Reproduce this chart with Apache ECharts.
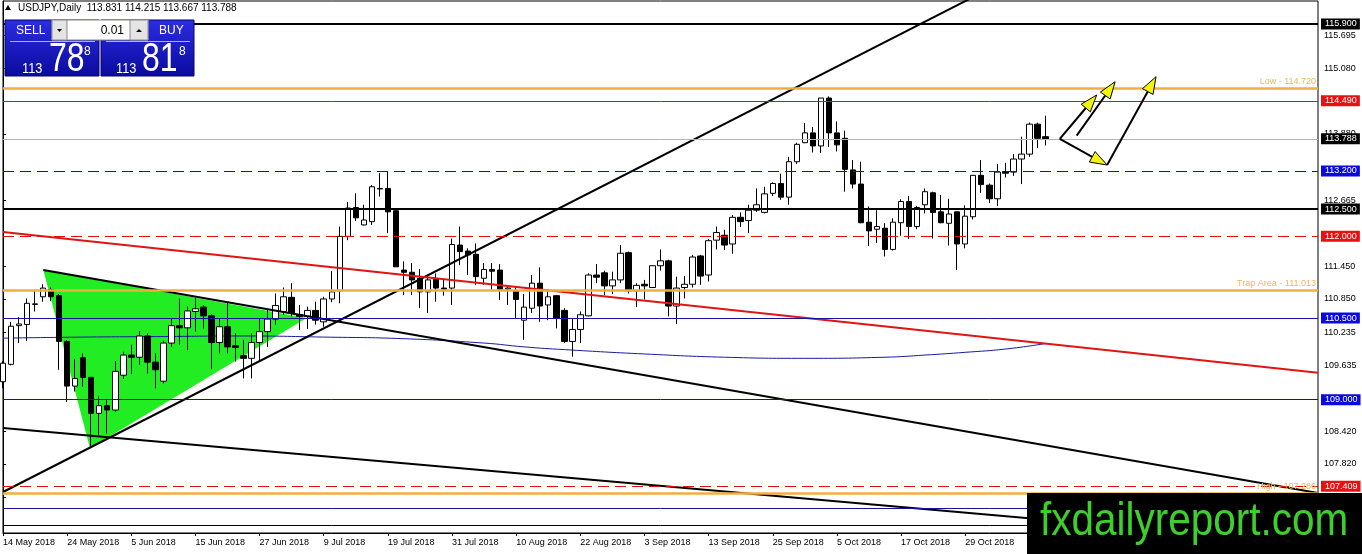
<!DOCTYPE html>
<html>
<head>
<meta charset="utf-8">
<script src="https://cdn.jsdelivr.net/npm/echarts@6/dist/echarts.min.js"></script>
<style>
html, body { margin: 0; padding: 0; background: #fff; }
#chart { width: 1362px; height: 554px; }
</style>
</head>
<body>
<div id="chart"></div>
<script>
var FONT = "'Liberation Sans', Arial, sans-serif";

//------------------- data -------------------
var barCount = 131;     // 14 May 2018 .. 12 Nov 2018
var slotCount = 165;    // bars + empty space on the right
var monthNames = ['Jan','Feb','Mar','Apr','May','Jun','Jul','Aug','Sep','Oct','Nov','Dec'];

// daily candles: open, close, low, high
var ohlc = [
  [109.33,109.67,109.21,109.71],[109.65,110.35,109.63,110.43],[110.36,110.39,110.04,110.52],[110.38,110.77,110.08,110.86],
  [110.75,110.76,110.62,111.01],[110.89,111.05,110.80,111.12],[111.02,110.89,110.81,111.06],[110.91,110.07,109.55,110.94],
  [110.07,109.25,108.96,110.10],[109.25,109.39,109.15,109.75],[109.77,109.41,109.24,109.85],[109.41,108.75,108.14,109.42],
  [108.75,108.89,108.35,109.06],[108.89,108.81,108.38,109.00],[108.81,109.52,108.78,109.71],[109.45,109.82,109.38,109.88],
  [109.82,109.78,109.47,110.01],[109.78,110.17,109.64,110.26],[110.17,109.69,109.48,110.22],[109.69,109.55,109.21,109.85],
  [109.34,110.04,109.30,110.08],[110.04,110.36,109.97,110.49],[110.36,110.32,110.01,110.86],[110.32,110.63,109.91,110.71],
  [110.62,110.67,110.25,110.87],[110.70,110.54,110.31,110.74],[110.54,110.05,109.56,110.57],[110.05,110.34,109.85,110.48],
  [110.34,109.97,109.85,110.79],[109.99,109.96,109.70,110.22],[109.81,109.76,109.39,110.10],[109.76,110.05,109.39,110.22],
  [110.05,110.25,109.70,110.48],[110.25,110.48,109.97,110.65],[110.48,110.73,110.38,110.95],[110.62,110.89,110.56,111.06],
  [110.88,110.59,110.53,111.14],[110.56,110.53,110.28,110.74],[110.53,110.64,110.30,110.71],[110.64,110.46,110.38,110.80],
  [110.43,110.85,110.34,110.89],[110.85,110.98,110.79,111.36],[111.00,112.00,110.77,112.18],[112.00,112.52,111.93,112.63],
  [112.53,112.34,112.28,112.79],[112.21,112.30,112.20,112.58],[112.27,112.91,112.21,112.94],[112.88,112.87,112.73,113.16],
  [112.88,112.45,112.06,113.19],[112.47,111.44,111.44,112.48],[111.38,111.34,110.92,111.54],[111.34,111.20,110.92,111.51],
  [111.23,110.98,110.68,111.40],[110.98,111.20,110.59,111.29],[111.21,111.05,110.80,111.32],[111.05,111.03,110.91,111.20],
  [111.05,111.85,110.74,111.96],[111.84,111.72,111.47,112.18],[111.73,111.66,111.29,111.78],[111.67,111.26,111.11,111.87],
  [111.23,111.39,111.11,111.51],[111.39,111.36,111.00,111.51],[111.38,111.03,110.83,111.49],[111.03,111.05,110.74,111.09],
  [111.00,110.84,110.49,111.08],[110.46,110.70,110.10,110.94],[110.68,111.14,110.59,111.29],[111.14,110.72,110.43,111.43],
  [110.74,110.89,110.46,111.03],[110.91,110.49,110.31,110.92],[110.64,110.07,110.04,110.68],[110.07,110.29,109.79,110.48],
  [110.29,110.56,110.04,110.62],[110.54,111.29,110.53,111.32],[111.29,111.25,111.14,111.49],[111.33,111.09,110.92,111.37],
  [111.09,111.20,110.94,111.35],[111.20,111.69,111.14,111.84],[111.70,111.00,110.95,111.72],[111.00,111.10,110.70,111.14],
  [111.12,111.09,110.84,111.20],[111.06,111.46,111.05,111.47],[111.46,111.55,111.37,111.76],[111.55,110.72,110.53,111.57],
  [110.72,111.05,110.39,111.26],[111.06,111.12,110.86,111.27],[111.12,111.62,111.06,111.66],[111.64,111.27,111.11,111.66],
  [111.29,111.92,111.17,111.95],[111.93,112.07,111.76,112.18],[112.02,111.84,111.75,112.12],[111.86,112.35,111.68,112.39],
  [112.35,112.27,112.17,112.44],[112.29,112.48,112.06,112.58],[112.48,112.58,112.45,112.88],[112.44,112.78,112.42,112.91],
  [112.79,112.97,112.74,112.99],[112.97,112.72,112.67,113.15],[112.72,113.37,112.58,113.46],[113.37,113.69,113.33,113.72],
  [113.72,113.90,113.71,114.08],[113.90,113.66,113.54,114.01],[113.66,114.54,113.53,114.54],[114.54,113.90,113.64,114.57],
  [113.90,113.68,113.56,114.11],[113.80,113.23,112.82,113.94],[113.22,112.96,112.88,113.40],[112.96,112.25,112.24,113.37],
  [112.26,112.10,111.82,112.55],[112.13,112.18,111.88,112.48],[112.15,111.76,111.63,112.24],[111.76,112.26,111.74,112.33],
  [112.25,112.64,112.01,112.68],[112.64,112.18,111.95,112.74],[112.18,112.53,112.13,112.56],[112.58,112.82,112.42,112.88],
  [112.80,112.44,111.96,112.82],[112.45,112.25,112.24,112.76],[112.24,112.41,111.83,112.69],[112.45,111.86,111.38,112.45],
  [111.86,112.37,111.78,112.57],[112.36,113.12,112.31,113.12],[113.12,112.95,112.80,113.40],[112.94,112.69,112.61,112.97],
  [112.69,113.18,112.56,113.33],[113.19,113.16,113.08,113.35],[113.18,113.42,113.11,113.51],[113.42,113.51,112.96,113.83],
  [113.51,114.06,113.46,114.09],[114.06,113.80,113.62,114.09],[113.831,113.788,113.667,114.215]
];

// price scale ticks printed on the right axis
var yTicks = [115.695, 115.080, 113.880, 112.665, 111.450, 110.850, 110.235,
              109.635, 108.420, 107.820, 107.205];
var yMin = 106.552, yMax = 116.322;

// horizontal levels and their notes
var levelPrices = [115.900, 114.720, 114.490, 113.788, 113.200, 112.500, 112.000,
                   111.013, 110.500, 109.000, 107.409, 107.286, 107.000, 106.700];
var levelNotes  = ['', 'Low - 114.720', '', '', '', '', '',
                   'Trap Area - 111.013', '', '', '', 'High - 107.286', '', ''];

// moving average (bar index, price)
var maIndex  = [0, 10, 20, 30, 40, 50, 60, 65, 70, 80, 90, 100, 110, 115, 120, 125, 130];
var maValues = [110.13, 110.15, 110.16, 110.17, 110.15, 110.12, 110.04, 109.97, 109.92,
                109.84, 109.78, 109.76, 109.78, 109.82, 109.87, 109.93, 110.03];

// green triangle (bar index, price)
var triIndex = [5.03, 10.85, 37.88];
var triPrice = [111.382, 108.107, 110.50];

// trend lines (bar index, price) pairs
var upTrend    = [[0, 107.305], [125, 116.695]];
var triTop     = [[5.03, 111.382], [164, 107.287]];
var redTrend   = [[0, 112.078], [164, 109.496]];
var lowTrend   = [[0, 108.48], [164, 106.356]];

// projection arrows: from index, from price, to index, to price
var arrows = [
  [131.8, 113.788, 136.4, 114.596],
  [133.9, 113.849, 138.7, 114.840],
  [131.8, 113.788, 137.7, 113.310],
  [137.7, 113.310, 143.8, 114.932]
];

//------------------- categories -------------------
var categories = [];
var day = new Date(2018, 4, 14);
while (categories.length < slotCount) {
  var wd = day.getDay();
  if (wd !== 0 && wd !== 6) {
    categories.push(day.getDate() + ' ' + monthNames[day.getMonth()] + ' ' + day.getFullYear());
  }
  day.setDate(day.getDate() + 1);
}

//------------------- styles for levels -------------------
var RED = '#e01010', NAVY = '#14149a', ORANGE = '#f2ae3d', TAGBLUE = '#0a0ae0';
var levelLook = [
  { c: '#000', w: 2, tag: '#000' },
  { c: ORANGE, w: 2.5 },
  { c: RED, w: 1, tag: '#e81010' },
  { c: '#b4b4b4', w: 1, tag: '#000' },
  { c: '#1010c8', w: 1, dash: [11, 6], tag: TAGBLUE },
  { c: '#000', w: 2, tag: '#000' },
  { c: RED, w: 1, dash: [11, 6], tag: '#e81010' },
  { c: ORANGE, w: 2.5 },
  { c: NAVY, w: 1, tag: TAGBLUE },
  { c: NAVY, w: 1, tag: TAGBLUE },
  { c: RED, w: 1, dash: [11, 6], tag: '#e81010' },
  { c: ORANGE, w: 2.5 },
  { c: NAVY, w: 1 },
  { c: '#000', w: 1 }
];

var levelLines = levelPrices.map(function (p, k) {
  var look = levelLook[k];
  var label = { show: false };
  if (look.tag) {
    label = {
      show: true, position: 'end', distance: 3, formatter: p.toFixed(3),
      color: '#fff', backgroundColor: look.tag, padding: [1, 3, 0, 4],
      fontSize: 9, lineHeight: 10, fontFamily: FONT
    };
  } else if (levelNotes[k]) {
    label = {
      show: true, position: 'insideEndTop', distance: 2, formatter: levelNotes[k],
      color: '#f0b45a', fontSize: 9, fontFamily: FONT
    };
  }
  return {
    yAxis: p,
    lineStyle: { color: look.c, width: look.w, type: look.dash || 'solid' },
    label: label
  };
});

function showEvery8(idx) { return idx % 8 === 0 && idx < barCount; }

function trendSeries(points, color, width) {
  return {
    type: 'line', xAxisIndex: 1, data: points, symbol: 'none', silent: true, z: 4,
    lineStyle: { color: color, width: width }
  };
}

var maData = maIndex.map(function (x, k) { return [x, maValues[k]]; });

//------------------- option -------------------
var option = {
  animation: false,
  backgroundColor: '#fff',
  grid: {
    left: 3, right: 44, top: 1, bottom: 21,
    show: true, borderColor: '#000', borderWidth: 1,
    outerBoundsMode: 'none'
  },
  xAxis: [{
    type: 'category', data: categories, boundaryGap: false,
    axisLine: { lineStyle: { color: '#000', width: 1 } },
    axisTick: { interval: showEvery8, length: 3, lineStyle: { color: '#000' } },
    axisLabel: { interval: showEvery8, align: 'left', color: '#000', fontSize: 9, fontFamily: FONT, margin: 5 },
    splitLine: { show: false }
  }, {
    type: 'value', min: 0, max: slotCount - 1, show: false
  }],
  yAxis: {
    type: 'value', position: 'right', min: yMin, max: yMax,
    axisLine: { show: true, lineStyle: { color: '#000' } },
    axisTick: { show: true, customValues: yTicks, length: 3, lineStyle: { color: '#000' } },
    axisLabel: {
      customValues: yTicks, color: '#000', fontSize: 9, fontFamily: FONT, margin: 6,
      formatter: function (v) { return v.toFixed(3); }
    },
    splitLine: { show: false }
  },
  series: [
    {
      type: 'custom', xAxisIndex: 1, z: 1, silent: true,
      data: [[triIndex[0], triPrice[0]]],
      renderItem: function (params, api) {
        var pts = triIndex.map(function (x, k) { return api.coord([x, triPrice[k]]); });
        return { type: 'polygon', shape: { points: pts }, style: { fill: '#22ec22' } };
      }
    },
    {
      type: 'line', xAxisIndex: 1, data: maData, smooth: true, symbol: 'none', silent: true, z: 2,
      lineStyle: { color: '#1a1aa0', width: 1 }
    },
    {
      type: 'candlestick', xAxisIndex: 0, data: ohlc, barWidth: 6, silent: true, z: 3,
      itemStyle: { color: '#fff', color0: '#000', borderColor: '#000', borderColor0: '#000', borderWidth: 1 },
      markLine: { symbol: 'none', silent: true, z: 5, animation: false, data: levelLines }
    },
    trendSeries(upTrend, '#000', 2),
    trendSeries(triTop, '#000', 2),
    trendSeries(redTrend, '#e01414', 2),
    trendSeries(lowTrend, '#000', 2),
    {
      type: 'custom', xAxisIndex: 1, z: 6, silent: true,
      encode: { x: [0, 2], y: [1, 3] },
      data: arrows,
      renderItem: function (params, api) {
        var a = api.coord([api.value(0), api.value(1)]);
        var b = api.coord([api.value(2), api.value(3)]);
        var dx = b[0] - a[0], dy = b[1] - a[1];
        var len = Math.sqrt(dx * dx + dy * dy);
        var ux = dx / len, uy = dy / len;
        var L = 17, W = 6;
        var bx = b[0] - ux * L, by = b[1] - uy * L;
        return {
          type: 'group',
          children: [
            { type: 'line', shape: { x1: a[0], y1: a[1], x2: bx, y2: by }, style: { stroke: '#000', lineWidth: 2 } },
            { type: 'polygon', shape: { points: [[b[0], b[1]], [bx - uy * W, by + ux * W], [bx + uy * W, by - ux * W]] },
              style: { fill: '#f4f40a', stroke: '#000', lineWidth: 1 } }
          ]
        };
      }
    }
  ],
  graphic: [
    // header line
    { type: 'polygon', z: 50, shape: { points: [[5, 10], [11, 10], [8, 5]] }, style: { fill: '#000' } },
    { type: 'text', z: 50, x: 18, y: 3,
      style: { text: 'USDJPY,Daily  113.831 114.215 113.667 113.788', fill: '#000', font: '10px ' + FONT, textVerticalAlign: 'top', verticalAlign: 'top' } },
    // one-click trading panel
    { type: 'rect', z: 50, shape: { x: 5, y: 20, width: 94, height: 56 },
      style: { fill: { type: 'linear', x: 0, y: 0, x2: 0, y2: 1, colorStops: [{ offset: 0, color: '#2c2ce4' }, { offset: 1, color: '#0a0a9e' }] }, stroke: '#05056a' } },
    { type: 'rect', z: 50, shape: { x: 101, y: 20, width: 93, height: 56 },
      style: { fill: { type: 'linear', x: 0, y: 0, x2: 0, y2: 1, colorStops: [{ offset: 0, color: '#2c2ce4' }, { offset: 1, color: '#0a0a9e' }] }, stroke: '#05056a' } },
    { type: 'line', z: 51, shape: { x1: 10, y1: 41.5, x2: 95, y2: 41.5 }, style: { stroke: '#a8b0ff', lineWidth: 1 } },
    { type: 'line', z: 51, shape: { x1: 106, y1: 41.5, x2: 190, y2: 41.5 }, style: { stroke: '#a8b0ff', lineWidth: 1 } },
    { type: 'rect', z: 52, shape: { x: 52, y: 20, width: 96, height: 20 }, style: { fill: '#fff', stroke: '#8a8a8a' } },
    { type: 'rect', z: 53, shape: { x: 52, y: 20, width: 15, height: 20 }, style: { fill: '#e4e4e4', stroke: '#8a8a8a' } },
    { type: 'rect', z: 53, shape: { x: 130, y: 20, width: 18, height: 20 }, style: { fill: '#e4e4e4', stroke: '#8a8a8a' } },
    { type: 'polygon', z: 54, shape: { points: [[57, 29], [62, 29], [59.5, 32]] }, style: { fill: '#000' } },
    { type: 'polygon', z: 54, shape: { points: [[136, 32], [142, 32], [139, 29]] }, style: { fill: '#000' } },
    { type: 'text', z: 54, x: 124, y: 30.5,
      style: { text: '0.01', fill: '#000', font: '12px ' + FONT, textAlign: 'right', align: 'right', textVerticalAlign: 'middle', verticalAlign: 'middle' } },
    { type: 'text', z: 54, x: 16, y: 31,
      style: { text: 'SELL', fill: '#fff', font: '12px ' + FONT, textVerticalAlign: 'middle', verticalAlign: 'middle' } },
    { type: 'text', z: 54, x: 159, y: 31,
      style: { text: 'BUY', fill: '#fff', font: '12px ' + FONT, textVerticalAlign: 'middle', verticalAlign: 'middle' } },
    { type: 'text', z: 54, x: 22, y: 76, scaleX: 0.85,
      style: { text: '113', fill: '#fff', font: '15px ' + FONT, textVerticalAlign: 'bottom', verticalAlign: 'bottom' } },
    { type: 'text', z: 54, x: 49, y: 80, scaleX: 0.8,
      style: { text: '78', fill: '#fff', font: '40px ' + FONT, textVerticalAlign: 'bottom', verticalAlign: 'bottom' } },
    { type: 'text', z: 54, x: 84, y: 46,
      style: { text: '8', fill: '#fff', font: '12px ' + FONT, textVerticalAlign: 'top', verticalAlign: 'top' } },
    { type: 'text', z: 54, x: 116, y: 76, scaleX: 0.85,
      style: { text: '113', fill: '#fff', font: '15px ' + FONT, textVerticalAlign: 'bottom', verticalAlign: 'bottom' } },
    { type: 'text', z: 54, x: 142, y: 80, scaleX: 0.8,
      style: { text: '81', fill: '#fff', font: '40px ' + FONT, textVerticalAlign: 'bottom', verticalAlign: 'bottom' } },
    { type: 'text', z: 54, x: 179, y: 46,
      style: { text: '8', fill: '#fff', font: '12px ' + FONT, textVerticalAlign: 'top', verticalAlign: 'top' } },
    // watermark
    { type: 'rect', z: 100, shape: { x: 1027, y: 493, width: 335, height: 61 }, style: { fill: '#000' } },
    { type: 'text', z: 101, x: 1040, y: 522, scaleX: 0.88,
      style: { text: 'fxdailyreport.com', fill: '#3dcf2b', font: '46px ' + FONT, textVerticalAlign: 'middle', verticalAlign: 'middle' } }
  ]
};

var chart = echarts.init(document.getElementById('chart'));
chart.setOption(option);
</script>
</body>
</html>
